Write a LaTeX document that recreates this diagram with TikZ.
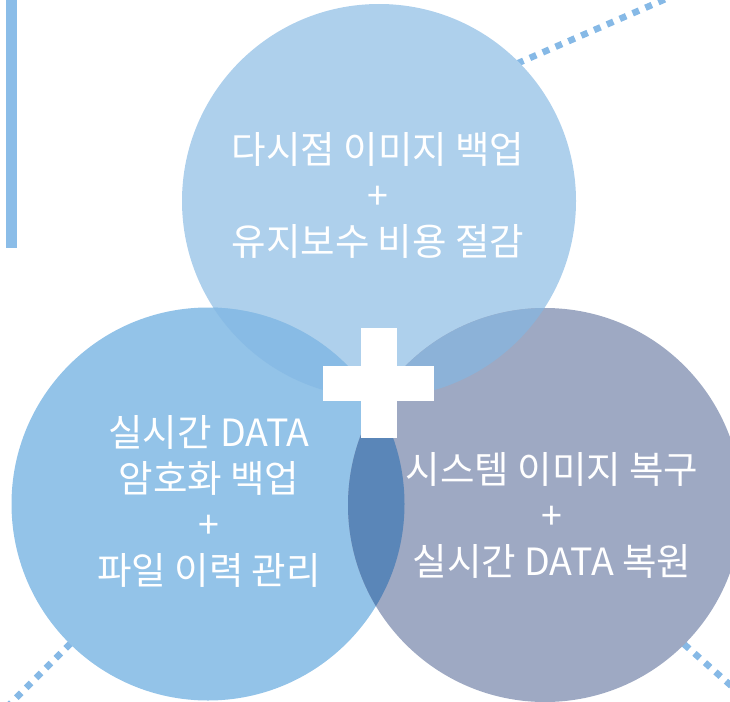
\documentclass[tikz,border=0pt]{standalone}
\usepackage{fontspec}
\setmainfont{Noto Sans CJK KR}
\definecolor{cTop}{HTML}{AED0EC}
\definecolor{cLeft}{HTML}{93C3E8}
\definecolor{cRight}{HTML}{9EA9C3}
\definecolor{cTL}{HTML}{88BBE5}
\definecolor{cTR}{HTML}{8CB2D8}
\definecolor{cLR}{HTML}{5A86B8}
\definecolor{cDot}{HTML}{86B9E6}
\definecolor{cBar}{HTML}{8BBDE8}
\begin{document}
\begin{tikzpicture}[x=1pt,y=-1pt,
  dotline/.style={draw=cDot,line width=6.5pt,dash pattern=on 7pt off 7pt},
  label/.style={text=white,align=center,font=\fontsize{37.5}{46}\selectfont},
  plusbar/.style={fill=white,draw=none}]
\useasboundingbox (0,0) rectangle (730,701);
\clip (0,0) rectangle (730,701);
% dotted connectors (behind the circles)
\coordinate (tr0) at (440,97);
\coordinate (tr1) at (760,-42);
\coordinate (bl0) at (140,574);
\coordinate (bl1) at (2,712);
\coordinate (br0) at (600,570);
\coordinate (br1) at (745,698);
\draw[dotline] (tr0) -- (tr1);
\draw[dotline] (bl0) -- (bl1);
\draw[dotline] (br0) -- (br1);
% left bar
\fill[cBar] (6,0) rectangle (17,248);
% circles
\def\ctop{(379,201) circle[radius=197]}
\def\cleft{(208,504) circle[radius=196.5]}
\def\cright{(545,505) circle[radius=197]}
\fill[cTop] \ctop;
\fill[cLeft] \cleft;
\fill[cRight] \cright;
\begin{scope}\clip \ctop; \fill[cTL] \cleft; \end{scope}
\begin{scope}\clip \ctop; \fill[cTR] \cright; \end{scope}
\begin{scope}\clip \cleft; \fill[cLR] \cright; \end{scope}
% plus sign
\fill[plusbar] (361,328) rectangle (397,438);
\fill[plusbar] (323,366) rectangle (434,401);
% texts
\node[label] (ttop) at (378,195) {다시점 이미지 백업\\+\\유지보수 비용 절감};
\node[label] (tleft) at (209,501) {실시간 DATA\\암호화 백업\\+\\파일 이력 관리};
\node[label] (tright) at (552,515) {시스템 이미지 복구\\+\\실시간 DATA 복원};
\end{tikzpicture}
\end{document}
